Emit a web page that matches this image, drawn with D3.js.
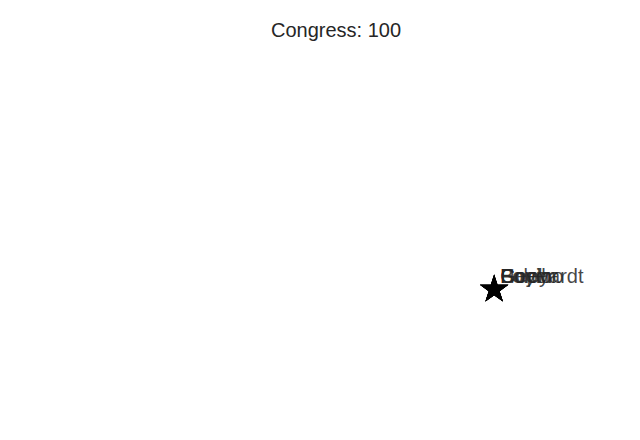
<!DOCTYPE html>
<html><head><meta charset="utf-8">
<script src="https://cdn.jsdelivr.net/npm/d3@7"></script>
<style>html,body{margin:0;padding:0;background:#fff;}svg{display:block;}</style>
</head><body>
<svg id="c" width="640" height="440"></svg>
<script>
const names = ["Foley", "Coelho", "Bonior", "Hoyer", "Gephardt"];
const xVals = [0.67, 0.67, 0.67, 0.67, 0.67];
const yVals = [-0.41, -0.41, -0.41, -0.41, -0.41];
const title = "Congress: 100";

const svg = d3.select("#c");
const W = 640, H = 440;
svg.append("rect").attr("width", W).attr("height", H).attr("fill", "#fff");
const x = d3.scaleLinear().domain([-1, 1]).range([80, 576]);
const y = d3.scaleLinear().domain([-1, 1]).range([387, 53]);
const font = "'Liberation Sans', Arial, sans-serif";

svg.append("text").attr("x", 336).attr("y", 37).attr("text-anchor", "middle")
  .attr("font-family", font).attr("font-size", 20).attr("fill", "#262626").text(title);

const data = names.map((n, i) => ({n, x: xVals[i], y: yVals[i]}));
const star = d3.symbol().type(d3.symbolStar).size(250);
svg.selectAll("path.pt").data(data).join("path").attr("class", "pt")
  .attr("d", star).attr("transform", d => `translate(${x(d.x)},${y(d.y) + 1})`)
  .attr("fill", "#000");
svg.selectAll("text.lbl").data(data).join("text").attr("class", "lbl")
  .attr("x", d => x(d.x) + 6).attr("y", d => y(d.y) - 5)
  .attr("font-family", font).attr("font-size", 20).attr("fill", "#262626")
  .attr("fill-opacity", 0.85).text(d => d.n);
</script>
</body></html>
